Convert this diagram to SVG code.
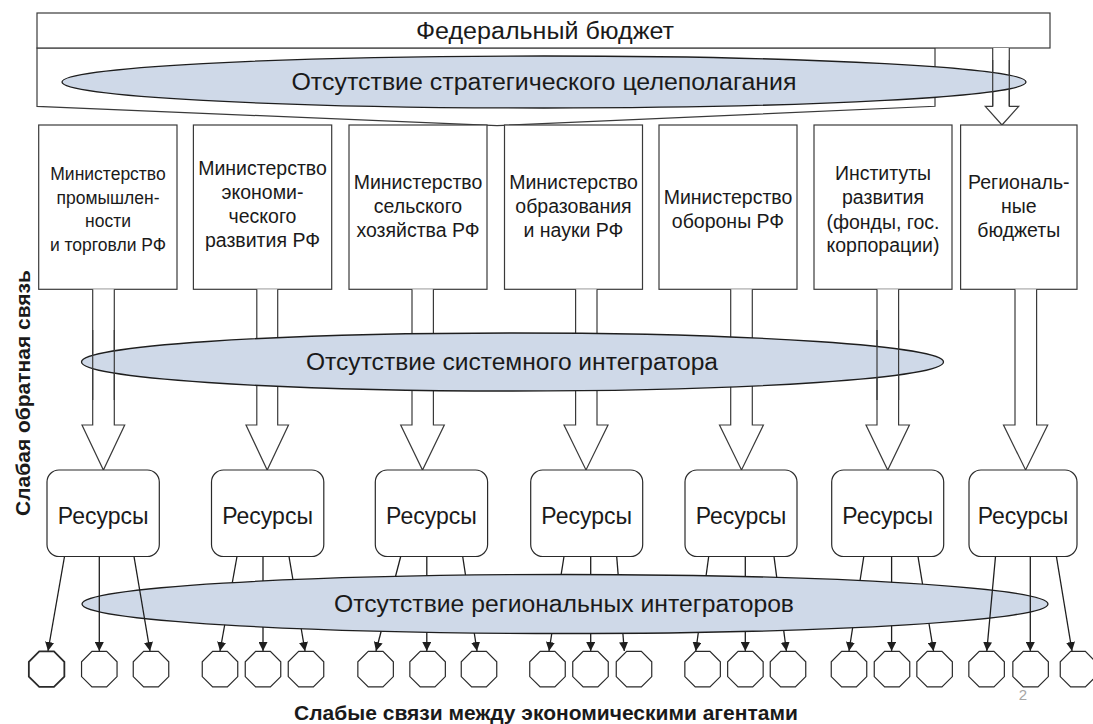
<svg xmlns="http://www.w3.org/2000/svg" xmlns:xlink="http://www.w3.org/1999/xlink" width="1093" height="724" viewBox="0 0 1093 724">
<style>
  .box{fill:#fff;stroke:#3a3a3a;stroke-width:1.2}
  .res{fill:#fff;stroke:#2a2a2a;stroke-width:1.2}
  .ell{fill:#cfd9e8;stroke:#1e1e1e;stroke-width:1.3}
  .barrow{fill:#fff;stroke:#3a3a3a;stroke-width:1.2}
  .bline{fill:none;stroke:#3a3a3a;stroke-width:1.2}
  .line{fill:none;stroke:#1e1e1e;stroke-width:1.3;marker-end:url(#ah)}
  .oct{fill:#fff;stroke:#2a2a2a;stroke-width:1.2}
  .t{font-family:"Liberation Sans",Arial,sans-serif;fill:#1a1a1a;text-anchor:middle}
  .s{font-size:17.5px}
  .m{font-size:19.5px}
  .big{font-size:23px}
  .b{font-weight:bold;font-size:21px}
</style>
<defs>
  <marker id="ah" markerUnits="userSpaceOnUse" markerWidth="9" markerHeight="9" viewBox="0 0 10 10" refX="10" refY="5" orient="auto">
    <path d="M0,0 L10,5 L0,10 z" fill="#1e1e1e"/>
  </marker>
  <polygon id="oct" points="-7.35,-17.75 7.35,-17.75 17.75,-7.35 17.75,7.35 7.35,17.75 -7.35,17.75 -17.75,7.35 -17.75,-7.35"/>
</defs>
<rect width="1093" height="724" fill="#fff"/>

<g id="federal-budget">
  <path class="box" d="M37,48 H935 V106.3 L497,125.7 L37,106.3 Z"/>
  <rect class="box" x="37" y="13" width="1013" height="35"/>
  <text class="t big" x="545" y="38.5" textLength="258" lengthAdjust="spacingAndGlyphs">Федеральный бюджет</text>
</g>

<g id="connectors-top-under">
  <path class="barrow" d="M992.7,48 V106.3 H985.3 L1002,125 L1018.7,106.3 H1009.3 V48"/>
</g>

<g id="no-strategic-goal">
  <ellipse class="ell" cx="544" cy="82" rx="482" ry="26"/>
  <text class="t big" x="544" y="90" textLength="505" lengthAdjust="spacingAndGlyphs">Отсутствие стратегического целеполагания</text>
</g>

<g id="min-industry">
  <rect class="box" x="38.7" y="125" width="138.3" height="164.3"/>
  <text class="t s" x="108" y="179.5">Министерство</text>
  <text class="t s" x="108" y="203.5">промышлен-</text>
  <text class="t s" x="108" y="227">ности</text>
  <text class="t s" x="108" y="250.5">и торговли РФ</text>
</g>
<g id="min-economy">
  <rect class="box" x="193.4" y="125" width="138.3" height="164.3"/>
  <text class="t m" x="262.5" y="175">Министерство</text>
  <text class="t m" x="262.5" y="199">экономи-</text>
  <text class="t m" x="262.5" y="223">ческого</text>
  <text class="t m" x="262.5" y="247">развития РФ</text>
</g>
<g id="min-agriculture">
  <rect class="box" x="349" y="125" width="138" height="164.3"/>
  <text class="t m" x="418" y="188.5">Министерство</text>
  <text class="t m" x="418" y="213">сельского</text>
  <text class="t m" x="418" y="237">хозяйства РФ</text>
</g>
<g id="min-education">
  <rect class="box" x="504.5" y="125" width="138" height="164.3"/>
  <text class="t m" x="573.5" y="188.5">Министерство</text>
  <text class="t m" x="573.5" y="213">образования</text>
  <text class="t m" x="573.5" y="237">и науки РФ</text>
</g>
<g id="min-defence">
  <rect class="box" x="659" y="125" width="138" height="164.3"/>
  <text class="t m" x="728" y="204">Министерство</text>
  <text class="t m" x="728" y="227.5">обороны РФ</text>
</g>
<g id="dev-institutes">
  <rect class="box" x="814" y="125" width="138" height="164.3"/>
  <text class="t m" x="883" y="180">Институты</text>
  <text class="t m" x="883" y="204">развития</text>
  <text class="t m" x="883" y="228.5">(фонды, гос.</text>
  <text class="t m" x="883" y="252">корпорации)</text>
</g>
<g id="regional-budgets">
  <rect class="box" x="960.6" y="125" width="116.4" height="164.3"/>
  <text class="t m" x="1018.8" y="188.5">Региональ-</text>
  <text class="t m" x="1018.8" y="213">ные</text>
  <text class="t m" x="1018.8" y="237">бюджеты</text>
</g>

<g id="connectors-under">
  <path class="barrow" d="M92.7,289.3 V425 H82 L103.4,470 L124.7,425 H114.3 V289.3"/>
  <path class="barrow" d="M256.8,289.3 V425 H246 L267.2,470 L288.5,425 H277.7 V289.3"/>
  <path class="barrow" d="M412,289.3 V425 H400.7 L422.5,470 L444.3,425 H433.4 V289.3"/>
  <path class="barrow" d="M575.6,289.3 V425 H564 L586,470 L608,425 H597 V289.3"/>
  <path class="barrow" d="M730.7,289.3 V425 H719.5 L741.5,470 L763.4,425 H752.3 V289.3"/>
  <path class="barrow" d="M877,289.3 V425 H866 L887.7,470 L909.4,425 H898.6 V289.3"/>
  <path class="barrow" d="M1015,289.3 V425 H1003.5 L1025.6,470 L1047.7,425 H1036.6 V289.3"/>
  <path class="line" d="M237,556.5 L220,651"/>
  <path class="line" d="M263,556.5 L263,651"/>
  <path class="line" d="M289,556.5 L305,651"/>
  <path class="line" d="M400.7,556.5 L376,651"/>
  <path class="line" d="M426.8,556.5 L426.8,651"/>
  <path class="line" d="M462.7,556.5 L477,651"/>
  <path class="line" d="M564,556.5 L549,651"/>
  <path class="line" d="M590.7,556.5 L590.7,651"/>
  <path class="line" d="M616.7,556.5 L624.3,651"/>
  <path class="line" d="M708.7,556.5 L695.8,651"/>
  <path class="line" d="M745.3,556.5 L745.3,651"/>
  <path class="line" d="M774,556.5 L786.4,651"/>
  <path class="line" d="M863.8,556.5 L849,651"/>
  <path class="line" d="M891.6,556.5 L891.6,651"/>
  <path class="line" d="M918,556.5 L933.5,651"/>
</g>

<g id="no-system-integrator">
  <ellipse class="ell" cx="512.5" cy="362" rx="431" ry="29"/>
  <text class="t big" x="512" y="370" textLength="412" lengthAdjust="spacingAndGlyphs">Отсутствие системного интегратора</text>
</g>

<g id="no-regional-integrators">
  <ellipse class="ell" cx="565" cy="604" rx="483" ry="29.5"/>
  <text class="t big" x="564" y="612" textLength="460" lengthAdjust="spacingAndGlyphs">Отсутствие региональных интеграторов</text>
</g>

<g id="connectors-over">
  <path class="bline" d="M992.7,60 V106 M1009.3,60 V106"/>
  <path class="bline" d="M92.7,330 V400 M114.3,330 V400"/>
  <path class="bline" d="M877,330 V400 M898.6,330 V400"/>
  <path class="line" d="M64.5,556.5 L48,651"/>
  <path class="line" d="M99.3,556.5 L99.3,651"/>
  <path class="line" d="M134,556.5 L150,651"/>
  <path class="line" d="M995.5,556.5 L986.8,651"/>
  <path class="line" d="M1030.3,556.5 L1030.3,651"/>
  <path class="line" d="M1056.4,556.5 L1072,651"/>
</g>

<g id="res-1"><rect class="res" x="47" y="470" width="112.3" height="86.5" rx="12"/><text class="t big" x="103.2" y="524">Ресурсы</text></g>
<g id="res-2"><rect class="res" x="211.5" y="470" width="112.3" height="86.5" rx="12"/><text class="t big" x="267.6" y="524">Ресурсы</text></g>
<g id="res-3"><rect class="res" x="375.3" y="470" width="112.3" height="86.5" rx="12"/><text class="t big" x="431.4" y="524">Ресурсы</text></g>
<g id="res-4"><rect class="res" x="530.7" y="470" width="112" height="86.5" rx="12"/><text class="t big" x="586.7" y="524">Ресурсы</text></g>
<g id="res-5"><rect class="res" x="685" y="470" width="112" height="86.5" rx="12"/><text class="t big" x="741" y="524">Ресурсы</text></g>
<g id="res-6"><rect class="res" x="831.7" y="470" width="112" height="86.5" rx="12"/><text class="t big" x="887.7" y="524">Ресурсы</text></g>
<g id="res-7"><rect class="res" x="969" y="470" width="108" height="86.5" rx="12"/><text class="t big" x="1023" y="524">Ресурсы</text></g>

<g id="agent-1"><use href="#oct" xlink:href="#oct" class="oct" x="46.6" y="669.2" style="stroke-width:1.8"/></g>
<g id="agent-2"><use href="#oct" xlink:href="#oct" class="oct" x="99.3" y="669.2"/></g>
<g id="agent-3"><use href="#oct" xlink:href="#oct" class="oct" x="151" y="669.2"/></g>
<g id="agent-4"><use href="#oct" xlink:href="#oct" class="oct" x="220" y="669.2"/></g>
<g id="agent-5"><use href="#oct" xlink:href="#oct" class="oct" x="263" y="669.2"/></g>
<g id="agent-6"><use href="#oct" xlink:href="#oct" class="oct" x="306" y="669.2"/></g>
<g id="agent-7"><use href="#oct" xlink:href="#oct" class="oct" x="375.6" y="669.2"/></g>
<g id="agent-8"><use href="#oct" xlink:href="#oct" class="oct" x="427.6" y="669.2"/></g>
<g id="agent-9"><use href="#oct" xlink:href="#oct" class="oct" x="479" y="669.2"/></g>
<g id="agent-10"><use href="#oct" xlink:href="#oct" class="oct" x="547.5" y="669.2"/></g>
<g id="agent-11"><use href="#oct" xlink:href="#oct" class="oct" x="590.5" y="669.2"/></g>
<g id="agent-12"><use href="#oct" xlink:href="#oct" class="oct" x="634" y="669.2"/></g>
<g id="agent-13"><use href="#oct" xlink:href="#oct" class="oct" x="702.6" y="669.2"/></g>
<g id="agent-14"><use href="#oct" xlink:href="#oct" class="oct" x="745.4" y="669.2"/></g>
<g id="agent-15"><use href="#oct" xlink:href="#oct" class="oct" x="788" y="669.2"/></g>
<g id="agent-16"><use href="#oct" xlink:href="#oct" class="oct" x="849" y="669.2"/></g>
<g id="agent-17"><use href="#oct" xlink:href="#oct" class="oct" x="892" y="669.2"/></g>
<g id="agent-18"><use href="#oct" xlink:href="#oct" class="oct" x="934.6" y="669.2"/></g>
<g id="agent-19"><use href="#oct" xlink:href="#oct" class="oct" x="986.6" y="669.2"/></g>
<g id="agent-20"><use href="#oct" xlink:href="#oct" class="oct" x="1030.6" y="669.2"/></g>
<g id="agent-21"><use href="#oct" xlink:href="#oct" class="oct" x="1078" y="669.2"/></g>

<g id="labels">
  <text class="t b" transform="translate(30,393) rotate(-90)">Слабая обратная связь</text>
  <text class="t b" x="546" y="720">Слабые связи между экономическими агентами</text>
  <text x="1023" y="700" style="font-family:'Liberation Sans',Arial,sans-serif;font-size:15px;fill:#a6a6a6;text-anchor:middle">2</text>
</g>
</svg>
